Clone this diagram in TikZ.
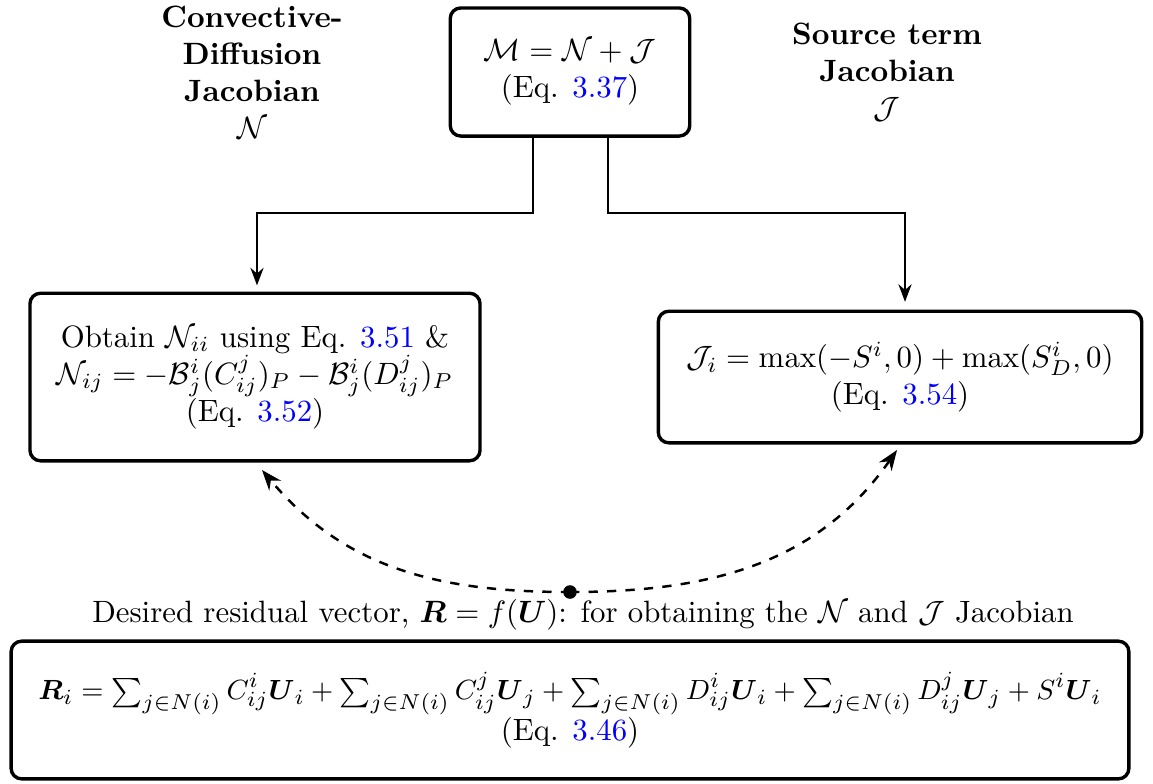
\documentclass[tikz,border=0pt]{standalone}
\usepackage{amsmath,amssymb}
\usepackage{xcolor}
\usepackage{tikz}
\usetikzlibrary{arrows.meta}
\tikzset{box/.style={draw, rounded corners=1.2mm, line width=1.1pt,
  align=center, inner sep=2pt},
  head/.style={align=center, font=\bfseries, inner sep=0pt},
  link/.style={->, semithick},
  feed/.style={->, dashed, thick}}
\newcommand{\eqnum}[1]{\textcolor{blue}{#1}}
\newcommand{\resid}{$\boldsymbol{R}_i = \sum_{j \in N(i)} C^i_{ij} \boldsymbol{U}_i
  + \sum_{j \in N(i)} C^j_{ij} \boldsymbol{U}_j
  + \sum_{j \in N(i)} D^i_{ij} \boldsymbol{U}_i
  + \sum_{j \in N(i)} D^j_{ij} \boldsymbol{U}_j
  + S^i \boldsymbol{U}_i$}

\begin{document}
\begin{tikzpicture}[x=0.0114cm, y=-0.0114cm, >=Stealth]
  \useasboundingbox (0, 0) rectangle (1153, 783);
  \node[box, minimum width=2.73cm, minimum height=1.46cm] (m) at (570, 72)
    {$\mathcal{M} = \mathcal{N} + \mathcal{J}$\\(Eq. \eqnum{3.37})};
  \node[head] (nh) at (252, 72)
    {Convective-\\Diffusion\\Jacobian\\$\mathcal{N}$};
  \node[head] (jh) at (887, 72)
    {Source term\\Jacobian\\$\mathcal{J}$};
  \node[box, minimum width=5.13cm, minimum height=1.91cm] (n) at (255, 377)
    {Obtain $\mathcal{N}_{ii}$ using Eq. \eqnum{3.51} \&\\
     $\mathcal{N}_{ij} = -\mathcal{B}^i_j (C^j_{ij})_P
       - \mathcal{B}^i_j (D^j_{ij})_P$\\(Eq. \eqnum{3.52})};
  \node[box, minimum width=5.51cm, minimum height=1.5cm] (j) at (900, 377)
    {$\mathcal{J}_i = \max(-S^i, 0) + \max(S^i_D, 0)$\\
     (Eq. \eqnum{3.54})};
  \node[box, minimum width=12.74cm, minimum height=1.57cm] (r) at (570, 710)
    {{\fontsize{9.5}{12}\selectfont\resid}\\(Eq. \eqnum{3.46})};
  \node (lbl) at (583, 615) {Desired residual vector,
    $\boldsymbol{R} = f(\boldsymbol{U})$: for obtaining the
    $\mathcal{N}$ and $\mathcal{J}$ Jacobian};
  \coordinate (ml) at (533, 213);
  \coordinate (mr) at (608, 213);
  \coordinate (nl) at (257, 213);
  \coordinate (jr) at (905, 213);
  \coordinate (dot) at (570, 592);
  \coordinate (nt) at (262, 470);
  \coordinate (jt) at (897, 450);
  % Jacobian split
  \draw[link] (m.south -| ml) -- (ml) -- (nl) -- ([yshift=2pt]n.north -| nl);
  \draw[link] (m.south -| mr) -- (mr) -- (jr) -- ([yshift=2.5pt]j.north -| jr);
  % Residual feeds
  \draw[feed] (dot) to[out=180, in=-50] (nt);
  \draw[feed] (dot) to[out=0, in=-125] (jt);
  \fill (dot) circle (2.2pt);
\end{tikzpicture}
\end{document}
